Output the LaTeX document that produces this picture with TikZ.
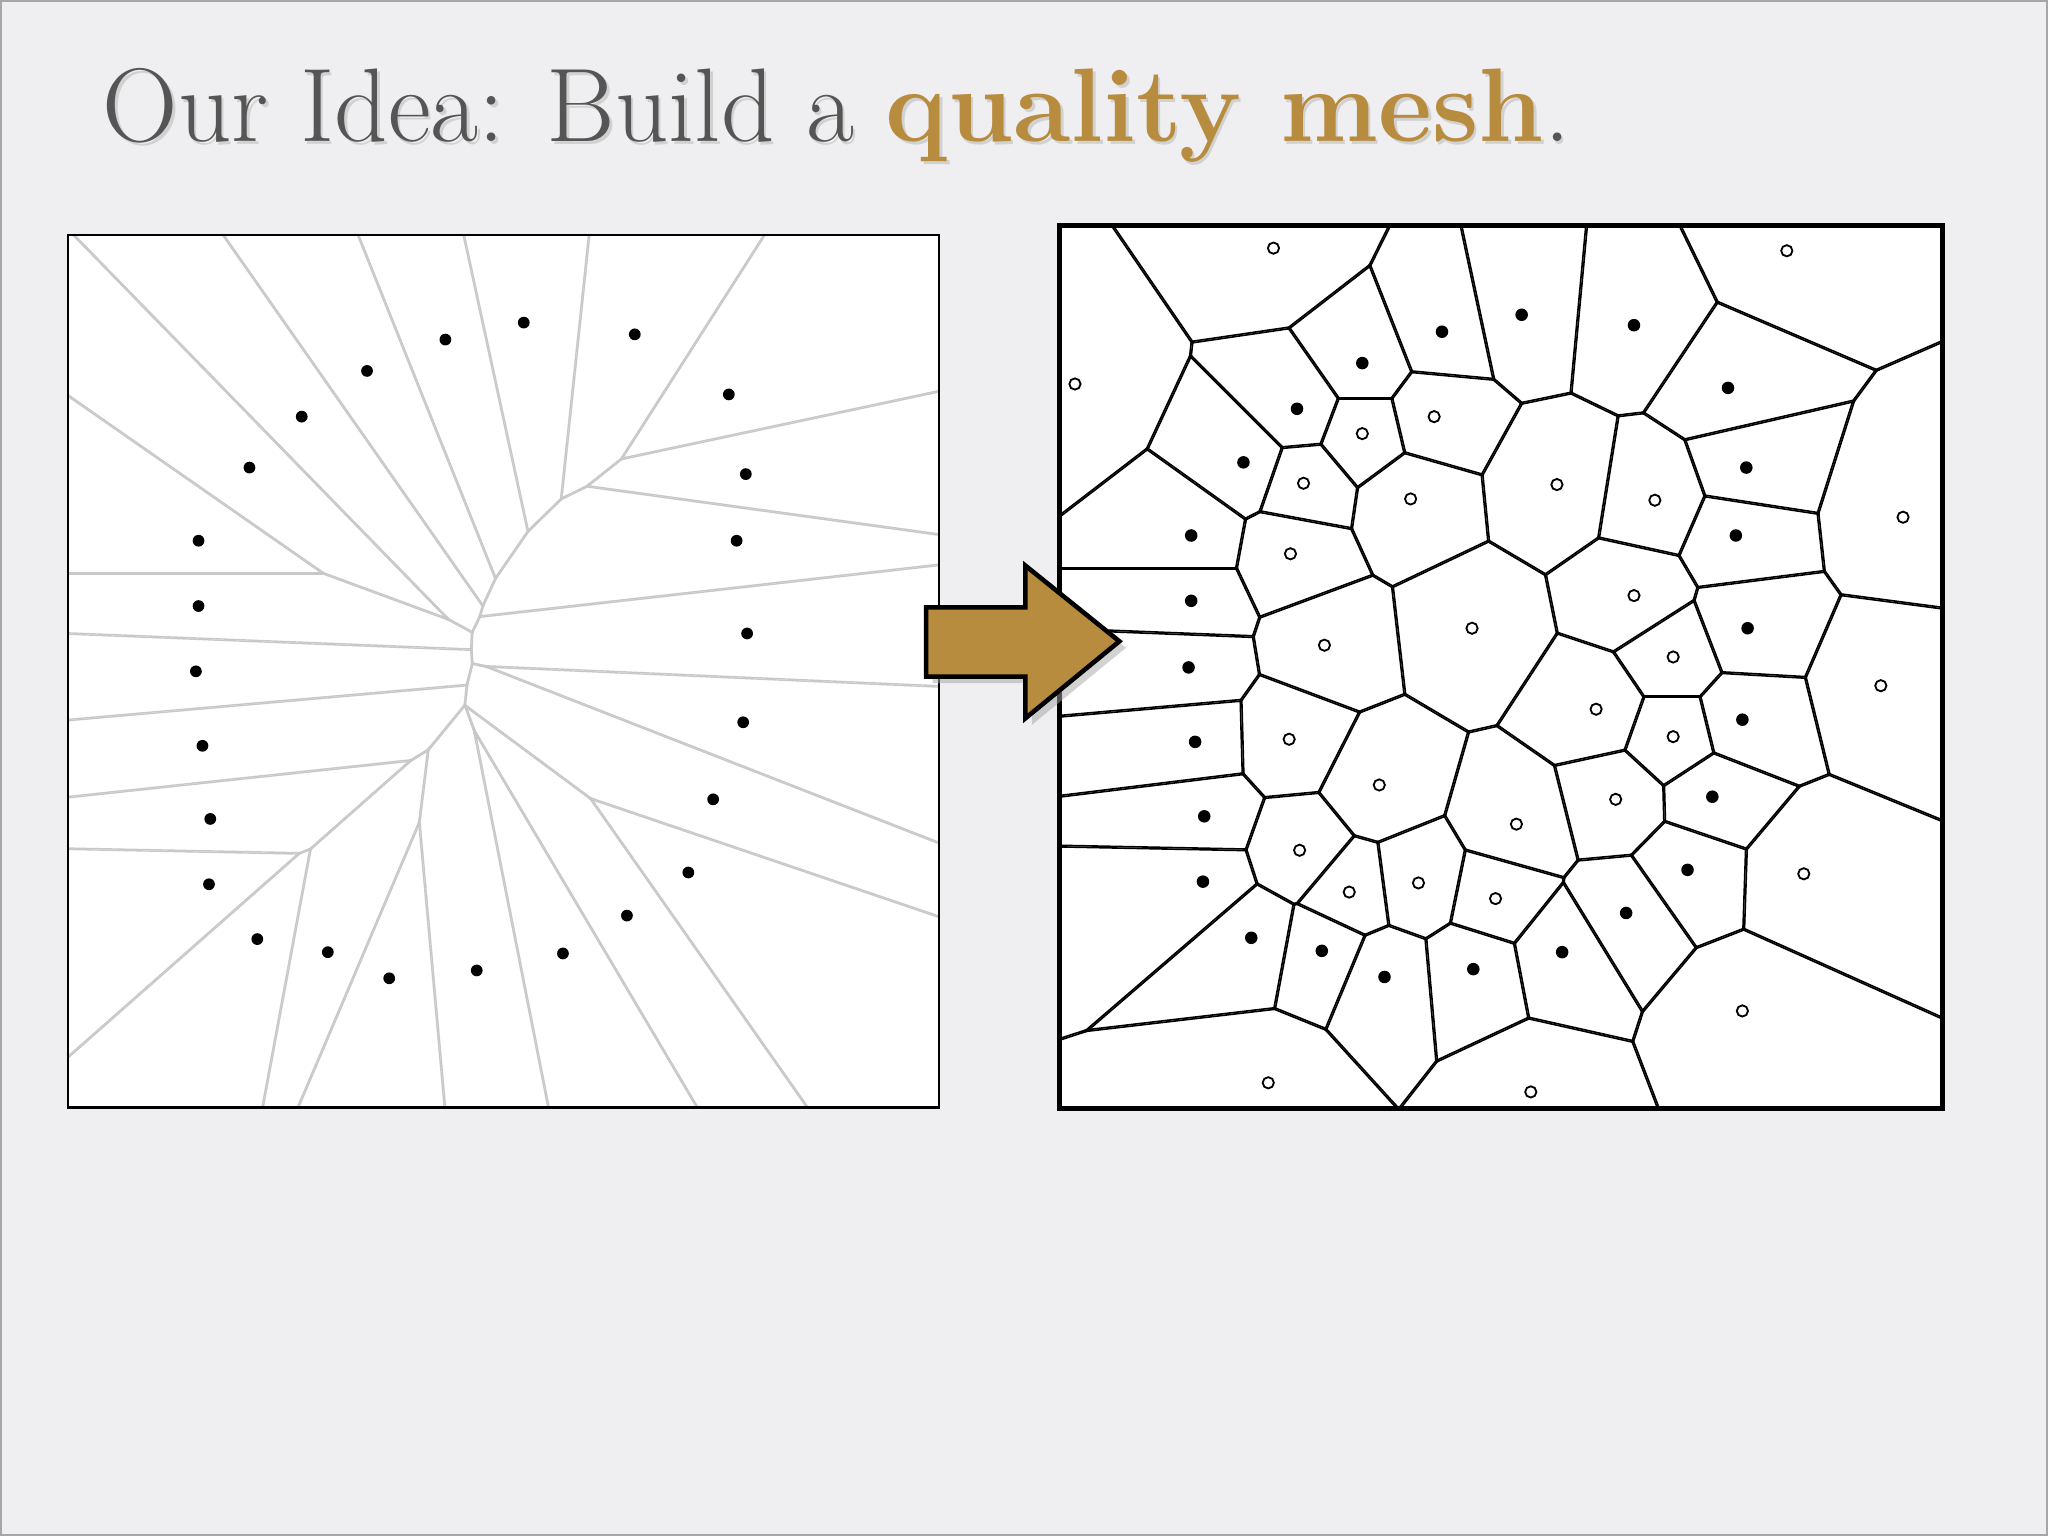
\documentclass[tikz,border=0pt]{standalone}
\usepackage{fontspec}
\definecolor{bg}{HTML}{EFEEF0}
\definecolor{gold}{HTML}{B88C3E}
\definecolor{ttl}{HTML}{555555}
\definecolor{lgray}{HTML}{C8C8C8}
\newcommand\blacksites{1104/254,1165/241,1251/249,1043/278,1323/297,993/313,1337/358,952/354,1329/410,912/410,1338/481,912/460,910/511,1334/551,915/568,1311/610,922/625,1292/666,921/675,1245/699,958/718,1012/728,1060/748,1128/742,1196/729}
\newcommand\whitesites{975/190,1368/192,823/294,1043/332,1098/319,998/370,1080/382,1192/371,1267/383,1457/396,988/424,1251/456,1127/481,1014/494,1281/503,1440/525,1222/543,1281/564,987/566,1056/601,1237/612,1161/631,995/651,1381/669,1033/683,1086/676,1145/688,1334/774,971/829,1172/836}
\edef\allsites{\blacksites,\whitesites}
\newcommand\leftsites{341/260,401/247,486/256,281/284,231/319,558/302,191/358,571/363,152/414,564/414,152/464,572/485,150/514,569/553,155/571,546/612,161/627,527/668,160/677,480/701,197/719,251/729,298/749,365/743,431/730}
\newcommand\vorcells[2]{%
\foreach \xa/\ya [count=\i] in #1 {
 \begin{scope}
 \foreach \xb/\yb [count=\j] in #1 {
  \ifnum\i=\j\else
   \pgfmathsetmacro\mx{(\xa+\xb)/200}
   \pgfmathsetmacro\my{-(\ya+\yb)/200}
   \pgfmathsetmacro\ang{atan2(\ya-\yb,\xb-\xa)}
   \clip[shift={(\mx,\my)},rotate=\ang] (-30,-30) rectangle (0,30);
  \fi}
 \foreach \xb/\yb [count=\j] in #1 {
  \ifnum\i=\j\else
   \pgfmathsetmacro\mx{(\xa+\xb)/200}
   \pgfmathsetmacro\my{-(\ya+\yb)/200}
   \pgfmathsetmacro\ang{atan2(\ya-\yb,\xb-\xa)}
   \draw[#2,shift={(\mx,\my)},rotate=\ang] (0,-30) -- (0,30);
  \fi}
 \end{scope}}}
\begin{document}
\begin{tikzpicture}
\useasboundingbox (0,0) rectangle (15.68,-11.76);
\fill[bg] (0,0) rectangle (15.68,-11.76);
\draw[gray!70,line width=0.8pt] (0,0) rectangle (15.68,-11.76);
\node[anchor=base west,inner sep=0,font=\fontsize{22.8}{27}\selectfont,text=black!25,opacity=0.6] (shadow) at (0.80,-1.105)
 {Our Idea: Build a {\bfseries quality mesh}.};
\node[anchor=base west,inner sep=0,font=\fontsize{22.8}{27}\selectfont] (title) at (0.78,-1.08)
 {\textcolor{ttl}{Our Idea: Build a }\textcolor{gold}{\bfseries quality mesh}\textcolor{ttl}{.}};
% left
\fill[white] (0.52,-1.80) rectangle (7.19,-8.48);
\begin{scope}
\clip (0.52,-1.80) rectangle (7.19,-8.48);
\vorcells{\leftsites}{lgray,line width=0.6pt}
\end{scope}
\draw[line width=0.5pt] (0.52,-1.80) rectangle (7.19,-8.48);
\foreach \x/\y in \leftsites {\fill (\x/100,-\y/100) circle (0.045);}
% right
\fill[white] (8.11,-1.73) rectangle (14.87,-8.49);
\begin{scope}
\clip (8.11,-1.73) rectangle (14.87,-8.49);
\vorcells{\allsites}{black,line width=0.7pt}
\end{scope}
\draw[line width=1.1pt] (8.11,-1.73) rectangle (14.87,-8.49);
\foreach \x/\y in \blacksites {\fill (\x/100,-\y/100) circle (0.048);}
\foreach \x/\y in \whitesites {\draw[fill=white,line width=0.4pt] (\x/100,-\y/100) circle (0.043);}
% arrow
\fill[black!35,opacity=0.5] (7.14,-4.70) -- (7.90,-4.70) -- (7.90,-4.38) -- (8.62,-4.96) -- (7.90,-5.55) -- (7.90,-5.23) -- (7.14,-5.23) -- cycle;
\draw[fill=gold,line width=1pt,line join=miter] (7.09,-4.65) -- (7.85,-4.65) -- (7.85,-4.33) -- (8.57,-4.91) -- (7.85,-5.50) -- (7.85,-5.18) -- (7.09,-5.18) -- cycle;
\end{tikzpicture}
\end{document}
